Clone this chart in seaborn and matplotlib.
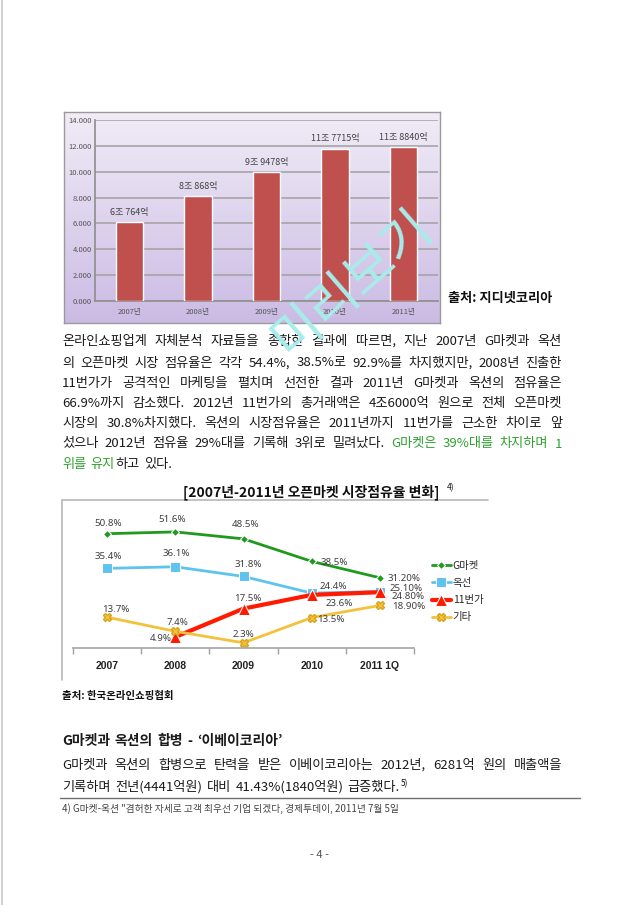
"""
Recreate the page: sales bar chart, market share line chart and Korean body text.
"""
import numpy as np
import matplotlib
matplotlib.use("Agg")
import matplotlib.pyplot as plt
import matplotlib.colors as mcolors
from matplotlib.lines import Line2D
import seaborn as sns

# ─────────────────────────────────────────────
# DATA
# ─────────────────────────────────────────────
SALES_YEARS  = ["2007년", "2008년", "2009년", "2010년", "2011년"]
SALES_VALUES = [6.0764, 8.0868, 9.9478, 11.7715, 11.8840]
SALES_LABELS = ["6조 764억", "8조 868억", "9조 9478억", "11조 7715억", "11조 8840억"]
SALES_YTICKS = [0, 2, 4, 6, 8, 10, 12, 14]
SALES_YTICKLABELS = ["0.000", "2.000", "4.000", "6.000", "8.000", "10.000", "12.000", "14.000"]

SHARE_PERIODS = ["2007", "2008", "2009", "2010", "2011 1Q"]
SHARE_NAMES   = ["G마켓", "옥선", "11번가", "기타"]
SHARE_GMARKET = [50.8, 51.6, 48.5, 38.5, 31.2]
SHARE_AUCTION = [35.4, 36.1, 31.8, 24.4, 25.1]
SHARE_11ST    = [np.nan, 4.9, 17.5, 23.6, 24.8]
SHARE_ETC     = [13.7, 7.4, 2.3, 13.5, 18.9]
LABEL_GMARKET = ["50.8%", "51.6%", "48.5%", "38.5%", "31.20%"]
LABEL_AUCTION = ["35.4%", "36.1%", "31.8%", "24.4%", "25.10%"]
LABEL_11ST    = [None, "4.9%", "17.5%", "23.6%", "24.80%"]
LABEL_ETC     = ["13.7%", "7.4%", "2.3%", "13.5%", "18.90%"]

# ─────────────────────────────────────────────
# SETUP
# ─────────────────────────────────────────────
W, H = 640, 905
sns.set_theme(style="white")
plt.rcParams["font.family"] = ["Noto Sans CJK KR", "DejaVu Sans"]

fig = plt.figure(figsize=(W / 100, H / 100), dpi=100)
fig.patch.set_facecolor("white")
renderer = fig.canvas.get_renderer()


def fx(x):
    return x / W


def fy(y):
    return 1 - y / H


def box(x0, y0, x1, y1):
    return [fx(x0), fy(y1), (x1 - x0) / W, (y1 - y0) / H]


def hline(x0, x1, y, color, lw=1.0):
    fig.add_artist(Line2D([fx(x0), fx(x1)], [fy(y), fy(y)], color=color, lw=lw,
                          transform=fig.transFigure))


def vline(x, y0, y1, color, lw=1.0):
    fig.add_artist(Line2D([fx(x), fx(x)], [fy(y0), fy(y1)], color=color, lw=lw,
                          transform=fig.transFigure))


# page border on the left
vline(1.5, 0, H, "#c8c8c8", 1.2)

# ─────────────────────────────────────────────
# BAR CHART (sales)
# ─────────────────────────────────────────────
frame = fig.add_axes(box(64, 112, 440, 323))
top, bottom = np.array(mcolors.to_rgb("#f1ecf7")), np.array(mcolors.to_rgb("#cbbbe4"))
t = np.linspace(0, 1, 200)[:, None]
grad = (top * (1 - t) + bottom * t)[:, None, :]
frame.imshow(grad, aspect="auto", extent=[0, 1, 0, 1])
frame.set_xticks([]); frame.set_yticks([])
for s in frame.spines.values():
    s.set_color("#9a9a9a"); s.set_linewidth(1.0)

ax1 = fig.add_axes(box(95, 120, 438, 301))
ax1.patch.set_alpha(0)
sns.barplot(x=SALES_YEARS, y=SALES_VALUES, color="#c0504d", width=0.4,
            saturation=1, ax=ax1, zorder=3)
ax1.set_ylim(0, 14)
ax1.set_xlim(-0.5, 4.5)
ax1.set_yticks(SALES_YTICKS)
ax1.set_yticklabels(SALES_YTICKLABELS, fontsize=5.5, color="#555555")
ax1.tick_params(axis="x", labelsize=5.5, labelcolor="#555555", length=0, pad=5)
ax1.tick_params(axis="y", length=0, pad=2)
ax1.set_xlabel(""); ax1.set_ylabel("")
ax1.yaxis.grid(True, color="#a0a0a0", lw=1.1, zorder=0)
ax1.set_axisbelow(True)
for side in ["top", "right"]:
    ax1.spines[side].set_visible(False)
for side in ["left", "bottom"]:
    ax1.spines[side].set_color("#909090")
for i, lab in enumerate(SALES_LABELS):
    ax1.annotate(lab, (i, SALES_VALUES[i]), xytext=(0, 10), textcoords="offset pixels",
                 ha="center", va="center", fontsize=6.5, color="#444444")

fig.text(fx(448), fy(298), "출처: 지디넷코리아", fontsize=9.5, fontweight="bold",
         ha="left", va="center", color="#111111")

# ─────────────────────────────────────────────
# BODY TEXT (justified word by word)
# ─────────────────────────────────────────────
BLACK, GREEN = "#1a1a1a", "#30a030"


def tokens(s, color):
    words = s.split(" ")
    if words and words[-1] == "":
        words = words[:-1]
        trailing = True
    else:
        trailing = False
    out = []
    for k, w in enumerate(words):
        space = True if k < len(words) - 1 else trailing
        out.append((w, color, space))
    return out


def draw_line(toks, y, x0=62, x1=562, justify=True, size=9.5, weight="normal"):
    items = []
    for word, color, space in toks:
        txt = fig.text(0, fy(y), word, fontsize=size, color=color, fontweight=weight,
                       ha="left", va="center")
        w = txt.get_window_extent(renderer).width
        items.append((txt, w, space))
    total = sum(w for _, w, _ in items)
    gaps = sum(1 for _, _, s in items[:-1] if s)
    gap = (x1 - x0 - total) / gaps if (justify and gaps) else 4.5
    x = x0
    for txt, w, s in items:
        txt.set_x(fx(x))
        x += w + (gap if s else 0)
    return x


para1 = [
    tokens("온라인쇼핑업계 자체분석 자료들을 종합한 결과에 따르면, 지난 2007년 G마켓과 옥션", BLACK),
    tokens("의 오픈마켓 시장 점유율은 각각 54.4%, 38.5%로 92.9%를 차지했지만, 2008년 진출한", BLACK),
    tokens("11번가가 공격적인 마케팅을 펼치며 선전한 결과 2011년 G마켓과 옥션의 점유율은", BLACK),
    tokens("66.9%까지 감소했다. 2012년 11번가의 총거래액은 4조6000억 원으로 전체 오픈마켓", BLACK),
    tokens("시장의 30.8%차지했다. 옥션의 시장점유율은 2011년까지 11번가를 근소한 차이로 앞", BLACK),
    tokens("섰으나 2012년 점유율 29%대를 기록해 3위로 밀려났다. ", BLACK)
    + tokens("G마켓은 39%대를 차지하며 1", GREEN),
    tokens("위를 유지", GREEN) + tokens("하고 있다.", BLACK),
]
para1_y = [341, 363, 383, 403, 423, 444, 464]
for k, (toks, y) in enumerate(zip(para1, para1_y)):
    draw_line(toks, y, justify=(k < len(para1) - 1))

# ─────────────────────────────────────────────
# LINE CHART (market share)
# ─────────────────────────────────────────────
fig.text(fx(311), fy(492), "[2007년-2011년 오픈마켓 시장점유율 변화]", fontsize=10,
         fontweight="bold", ha="center", va="center", color="#111111")
fig.text(fx(447), fy(488), "4)", fontsize=6, ha="left", va="center", color="#111111")

hline(62, 488, 500, "#b8b8b8", 1.2)
vline(62, 500, 680, "#b8b8b8", 1.2)

ax2 = fig.add_axes(box(73, 513, 414, 648))
ax2.patch.set_alpha(0)
xs = np.arange(len(SHARE_PERIODS))
series = [
    (SHARE_GMARKET, LABEL_GMARKET, dict(color="#1f9a1f", marker="D", markersize=4, linewidth=2.0)),
    (SHARE_AUCTION, LABEL_AUCTION, dict(color="#5fc3ef", marker="s", markersize=7, linewidth=2.0)),
    (SHARE_11ST, LABEL_11ST, dict(color="#ff1a00", marker="^", markersize=8, linewidth=3.0)),
    (SHARE_ETC, LABEL_ETC, dict(color="#f2c23c", marker="X", markersize=6, linewidth=2.0,
                                markeredgecolor="#d9a520", markeredgewidth=1)),
]
# label offsets in pixels (dx, dy, ha) for each point
offsets = [
    [(1, 10, "center"), (-3, 12, "center"), (2, 14, "center"), (9, -1, "left"), (8, -1, "left")],
    [(1, 12, "center"), (1, 13, "center"), (5, 12, "center"), (8, 7, "left"), (10, 3, "left")],
    [None, (-3, -2, "right"), (4, 10, "center"), (14, -9, "left"), (12, -4, "left")],
    [(9, 8, "center"), (2, 9, "center"), (0, 8, "center"), (5, -2, "left"), (12, -1, "left")],
]
for (vals, labs, style), name, offs in zip(series, SHARE_NAMES, offsets):
    vals = np.asarray(vals, dtype=float)
    ok = ~np.isnan(vals)
    sns.lineplot(x=xs[ok], y=vals[ok], ax=ax2, label=name, **style)
    for i in np.where(ok)[0]:
        dx, dy, ha = offs[i]
        ax2.annotate(labs[i], (xs[i], vals[i]), xytext=(dx, dy), textcoords="offset pixels",
                     ha=ha, va="center", fontsize=7, color="#404040",
                     family=["Noto Sans", "DejaVu Sans"], annotation_clip=False)

ax2.set_xlim(-0.5, 4.5)
ax2.set_ylim(0, 60)
ax2.set_yticks([])
ax2.set_xticks(xs)
ax2.set_xticklabels(SHARE_PERIODS, fontsize=7.5, fontweight="bold", color="#222222",
                    family=["Liberation Sans", "DejaVu Sans"])
ax2.set_xticks(np.arange(-0.5, 5, 1), minor=True)
ax2.tick_params(axis="x", which="major", length=0, pad=9)
ax2.tick_params(axis="x", which="minor", length=4, color="#a0a0a0", direction="out", bottom=True)
for side in ["top", "right", "left"]:
    ax2.spines[side].set_visible(False)
ax2.spines["bottom"].set_color("#a8a8a8")
ax2.set_xlabel(""); ax2.set_ylabel("")
ax2.legend_.remove()
handles, labels = ax2.get_legend_handles_labels()
fig.legend(handles, labels, loc="upper left", bbox_to_anchor=(fx(432), fy(561)),
           frameon=False, fontsize=7.5, handlelength=1.8, handletextpad=0.2,
           labelspacing=0.68, borderpad=0, borderaxespad=0)

# ─────────────────────────────────────────────
# LOWER TEXT
# ─────────────────────────────────────────────
fig.text(fx(62), fy(696), "출처: 한국온라인쇼핑협회", fontsize=7.5, fontweight="bold",
         ha="left", va="center", color="#111111")
draw_line(tokens("G마켓과 옥션의 합병 - ‘이베이코리아’", BLACK), 741, justify=False,
          size=10, weight="bold")
draw_line(tokens("G마켓과 옥션의 합병으로 탄력을 받은 이베이코리아는 2012년, 6281억 원의 매출액을", BLACK),
          765, justify=True)
end = draw_line(tokens("기록하며 전년(4441억원) 대비 41.43%(1840억원) 급증했다.", BLACK), 787, justify=False)
fig.text(fx(end + 1), fy(784), "5)", fontsize=6, ha="left", va="center", color="#111111")

hline(60, 580, 798, "#707070", 1.0)
fig.text(fx(62), fy(809), "4) G마켓-옥션 \"겸허한 자세로 고객 최우선 기업 되겠다, 경제투데이, 2011년 7월 5일",
         fontsize=7, ha="left", va="center", color="#444444")
fig.text(fx(320), fy(855), "- 4 -", fontsize=8, ha="center", va="center", color="#555555")

# watermark
fig.text(fx(352), fy(283), "미리보기", rotation=41, fontsize=38, color="#a8ecec",
         ha="center", va="center", zorder=10)

fig.savefig("out.png", dpi=100)
